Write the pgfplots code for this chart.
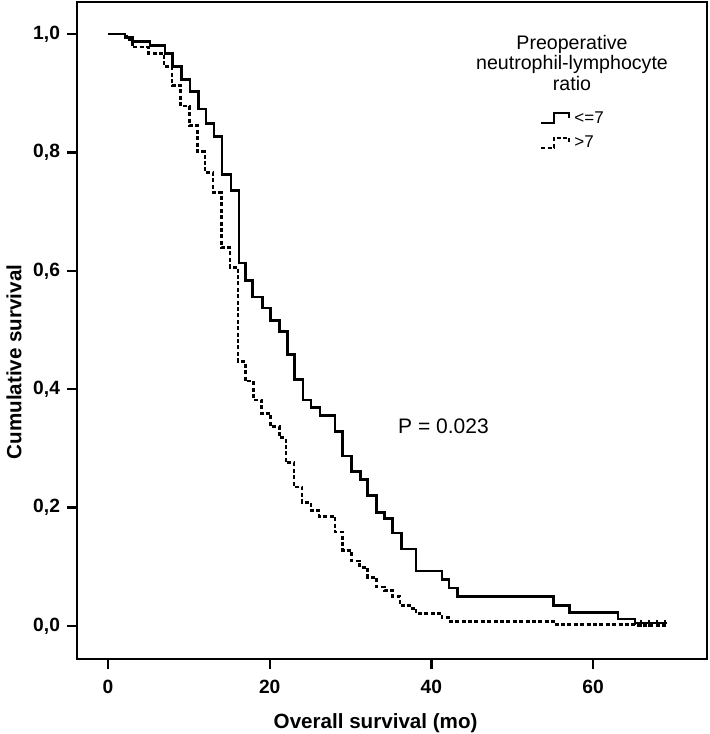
\documentclass[border=0pt]{standalone}
\usepackage{pgfplots}
\pgfplotsset{compat=1.18}
\usepackage{fontspec}
\setmainfont{Liberation Sans}

\begin{document}
\begin{tikzpicture}
\begin{axis}[
    scale only axis,
    width=315pt, height=328.5pt,
    xmin=-3.84, xmax=74.1,
    ymin=-0.0557, ymax=1.054,
    axis line style={line width=1.2pt},
    xtick={0,20,40,60},
    ytick={0,0.2,0.4,0.6,0.8,1.0},
    yticklabels={{0,0},{0,2},{0,4},{0,6},{0,8},{1,0}},
    tick align=outside,
    xtick pos=left, ytick pos=left,
    major tick length=5pt,
    tick style={line width=1.2pt, black},
    /pgf/number format/assume math mode=true,
    tick label style={font=\fontsize{9.6}{11}\selectfont\bfseries},
    xticklabel style={yshift=-2pt},
    xlabel={Overall survival (mo)},
    ylabel={Cumulative survival},
    label style={font=\fontsize{10.3}{12}\selectfont\bfseries},
    xlabel style={at={(axis description cs:0.474,-0.0974)}, anchor=center},
    ylabel style={at={(axis description cs:-0.1,0.452)}, anchor=center},
    legend style={at={(axis description cs:0.735,0.84)}, anchor=north west,
        draw=none, fill=none, font=\fontsize{8.5}{9.5}\selectfont,
        row sep=1pt, inner sep=0pt, cells={anchor=west}},
    legend image code/.code={\draw[#1, line width=1pt] (0pt,-2pt) -- (6.5pt,-2pt) -- (6.5pt,3pt) -- (14pt,3pt) -- (14pt,0.5pt);},
]
% <=7
\addplot[const plot, line width=1.3pt, black] coordinates {
(0,1.0) (2.1,0.994) (3.05,0.987) (5.2,0.981) (7.05,0.967) (8.0,0.945)
(9.1,0.923) (10.15,0.903) (11.2,0.873) (12.1,0.849) (13.1,0.827) (14.1,0.763)
(15.2,0.736) (16.2,0.613) (17.0,0.584) (17.9,0.556) (19.1,0.537) (20.1,0.516)
(21.2,0.497) (22.2,0.459) (23.1,0.416) (24.1,0.382) (25.1,0.369) (26.2,0.356)
(28.1,0.329) (29.0,0.287) (30.1,0.261) (31.2,0.247) (32.1,0.220) (33.2,0.192)
(34.2,0.182) (35.2,0.157) (36.3,0.130) (38.1,0.093) (41.3,0.079) (42.2,0.064)
(43.2,0.050) (55.1,0.035) (57.1,0.023) (63.1,0.012) (65.2,0.005) (69.1,0.005)
};
\addlegendentry{<=7}
% >7
\addplot[const plot, line width=1.3pt, black, dash pattern=on 2pt off 1.2pt] coordinates {
(0,1.0) (2.3,0.99) (3.0,0.978) (5.0,0.967) (6.9,0.945) (7.9,0.913)
(9.0,0.878) (10.1,0.845) (11.1,0.801) (12.0,0.766) (13.0,0.732) (14.0,0.639)
(15.1,0.606) (16.1,0.447) (17.0,0.414) (18.0,0.382) (19.0,0.359) (20.1,0.337)
(21.2,0.318) (22.0,0.276) (23.0,0.235) (24.0,0.209) (25.1,0.195) (26.1,0.185)
(28.1,0.159) (29.0,0.128) (30.1,0.110) (31.1,0.099) (32.1,0.082) (33.2,0.066)
(34.2,0.060) (35.2,0.050) (36.1,0.035) (37.3,0.030) (38.1,0.021) (41.3,0.014)
(42.3,0.008) (55.1,0.003) (65.2,0.001) (69.1,0.001)
};
\addlegendentry{>7}
% censored
\addplot[only marks, mark=|, mark size=1.6pt, line width=0.8pt, black, forget plot] coordinates {
(65.9,0.004) (66.9,0.004) (67.9,0.004) (68.9,0.004)
};
\node[font=\fontsize{10.5}{12}\selectfont] at (axis cs:41.5,0.338) {P = 0.023};
\node[align=center, font=\fontsize{9.8}{10.4}\selectfont] at (axis cs:57.4,0.951)
    {Preoperative\\neutrophil-lymphocyte\\ratio};
\end{axis}
\pgfresetboundingbox
\path[use as bounding box] ([shift={(-38.5pt,-37.5pt)}]current axis.south west)
    rectangle ([shift={(1pt,1pt)}]current axis.north east);
\end{tikzpicture}
\end{document}
